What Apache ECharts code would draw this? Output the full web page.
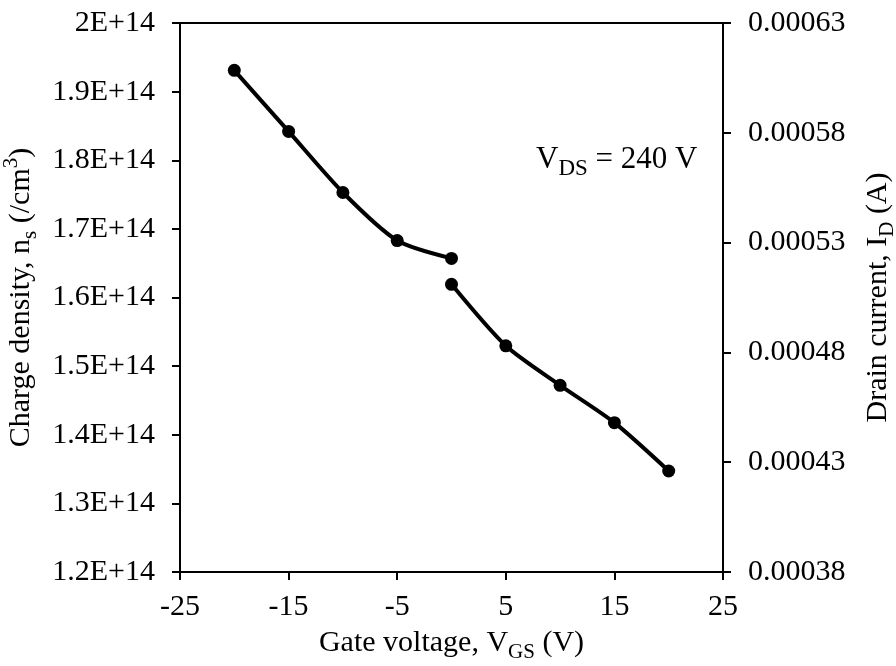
<!DOCTYPE html>
<html>
<head>
<meta charset="utf-8">
<script src="https://cdn.jsdelivr.net/npm/echarts@6/dist/echarts.min.js"></script>
<style>html,body{margin:0;padding:0;background:#fff}#c{width:896px;height:666px}</style>
</head>
<body>
<div id="c"></div>
<script>
// Gate voltage (V)
var vgsNeg = [-20, -15, -10, -5, 0];
var vgsPos = [0, 5, 10, 15, 20];
// Charge density n_s (/cm^3), left axis
var chargeDensity = [1.931e14, 1.842e14, 1.753e14, 1.683e14, 1.657e14];
// Drain current I_D (A), right axis
var drainCurrent = [0.000511, 0.000483, 0.000465, 0.000448, 0.000426];
var xTicks = [-25, -15, -5, 5, 15, 25];

var FONT = 'Liberation Serif';
var chart = echarts.init(document.getElementById('c'));
function pairs(xs, ys){ return xs.map(function(x,i){ return [x, ys[i]]; }); }
var nameRich = {
  n: {fontFamily: FONT, fontSize: 30, color: '#000', lineHeight: 40, verticalAlign: 'middle'},
  sub: {fontFamily: FONT, fontSize: 21, color: '#000', lineHeight: 21, verticalAlign: 'bottom'},
  sup: {fontFamily: FONT, fontSize: 21, color: '#000', lineHeight: 21, verticalAlign: 'top'}
};
var noteRich = {
  n: {fontFamily: FONT, fontSize: 31, color: '#000', lineHeight: 42, verticalAlign: 'middle'},
  sub: {fontFamily: FONT, fontSize: 23, color: '#000', lineHeight: 23, verticalAlign: 'bottom'}
};
var axisCommon = {
  axisLine: {show: true, onZero: false, lineStyle: {color: '#000', width: 2}},
  axisTick: {show: true, inside: false, length: 8, lineStyle: {color: '#000', width: 2}},
  splitLine: {show: false}
};
chart.setOption({
  animation: false,
  grid: {left: 180, right: 173, top: 23, bottom: 94, outerBoundsMode: 'none', containLabel: false,
         show: true, borderColor: '#000', borderWidth: 2, backgroundColor: 'transparent'},
  xAxis: Object.assign({
    type: 'value', min: xTicks[0], max: xTicks[xTicks.length-1], interval: 10,
    axisLabel: {fontFamily: FONT, fontSize: 30, color: '#000', margin: 20},
    name: '{n|Gate voltage, V}{sub|GS}{n| (V)}', nameLocation: 'middle', nameGap: 51,
    nameTextStyle: {rich: nameRich}
  }, axisCommon),
  yAxis: [Object.assign({
    type: 'value', min: 1.2e14, max: 2e14, interval: 1e13, position: 'left',
    axisLabel: {fontFamily: FONT, fontSize: 30, color: '#000', margin: 25,
      formatter: function(v){ return (Math.round(v/1e12)/100) + 'E+14'; }},
    name: '{n|Charge density, n}{sub|s}{n| (/cm}{sup|3}{n|)}', nameLocation: 'middle', nameGap: 132, nameRotate: 90,
    nameTextStyle: {rich: nameRich}
  }, axisCommon), Object.assign({
    type: 'value', min: 0.00038, max: 0.00063, interval: 0.00005, position: 'right',
    axisLabel: {fontFamily: FONT, fontSize: 30, color: '#000', margin: 25,
      formatter: function(v){ return v.toFixed(5); }},
    name: '{n|Drain current, I}{sub|D}{n| (A)}', nameLocation: 'middle', nameGap: 135, nameRotate: 90,
    nameTextStyle: {rich: nameRich}
  }, axisCommon)],
  series: [{
    type: 'line', yAxisIndex: 0, data: pairs(vgsNeg, chargeDensity),
    smooth: 0.25, symbol: 'circle', symbolSize: 13,
    lineStyle: {color: '#000', width: 4}, itemStyle: {color: '#000'}
  }, {
    type: 'line', yAxisIndex: 1, data: pairs(vgsPos, drainCurrent),
    smooth: 0.25, symbol: 'circle', symbolSize: 13,
    lineStyle: {color: '#000', width: 4}, itemStyle: {color: '#000'}
  }],
  graphic: [{
    type: 'text', left: 536, top: 144,
    style: {
      text: '{n|V}{sub|DS}{n| = 240 V}',
      rich: noteRich
    }
  }]
});
</script>
</body>
</html>
